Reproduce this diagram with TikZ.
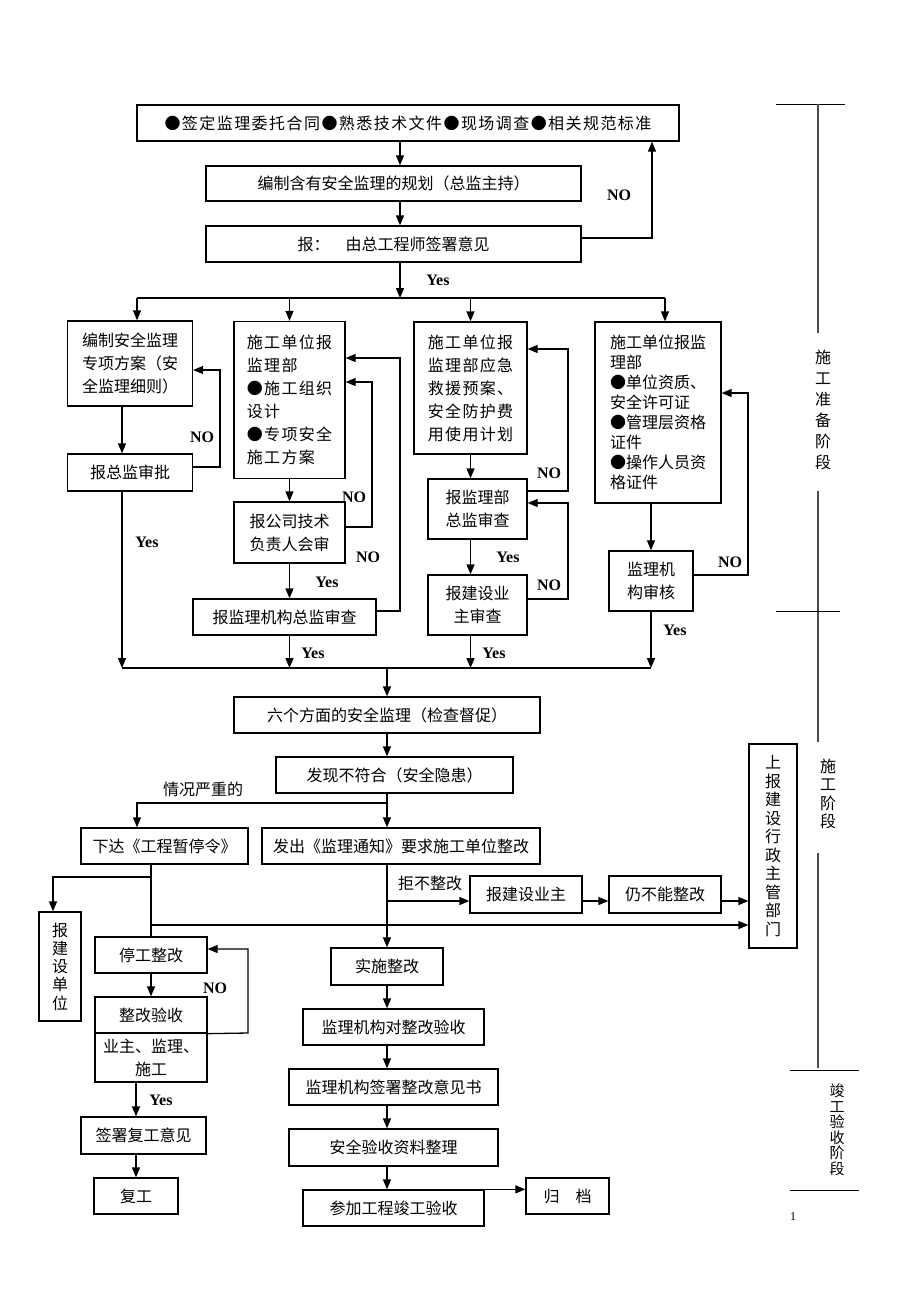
\documentclass[tikz,border=0pt]{standalone}
\usepackage{fontspec}
\setmainfont{Liberation Serif}
\newfontfamily\cjk{Noto Sans CJK SC}
\usetikzlibrary{arrows.meta}

\tikzset{
  box/.style={draw, line width=1.3pt, inner sep=0pt, align=center,
              font=\cjk\fontsize{16}{23}\selectfont},
  lbox/.style={box, align=left},
  spaced/.style={font=\cjk\addfontfeature{LetterSpace=8}\fontsize{16}{23}\selectfont},
  lab/.style={font=\bfseries\fontsize{16}{16}\selectfont, inner sep=0pt},
  note/.style={font=\cjk\fontsize{16}{16}\selectfont, inner sep=0pt},
  phase/.style={align=center, inner sep=0pt},
  conn/.style={line width=1.3pt},
  arr/.style={conn, -{Triangle[length=10pt,width=8pt]}},
  phaseline/.style={line width=1.8pt, black!70}
}

\begin{document}
\begin{tikzpicture}[x=1pt,y=-1pt]
             \useasboundingbox (0,0) rectangle (920,1302);

             \node[box, minimum width=542pt, minimum height=36pt, font=\cjk\addfontfeature{LetterSpace=9}\fontsize{16}{23}\selectfont] (b1) at (408,123) {●签定监理委托合同●熟悉技术文件●现场调查●相关规范标准};
             \node[box, minimum width=375pt, minimum height=35pt] (b2) at (393.5,183.5) {编制含有安全监理的规划（总监主持）};
             \node[box, minimum width=375pt, minimum height=36pt] (b3) at (393.5,244) {报：\hspace{1em}由总工程师签署意见};

             \node[lbox, minimum width=125pt, minimum height=85pt] (c1a) at (130,363.5) {编制安全监理\\专项方案（安\\全监理细则）};
             \node[box, minimum width=125pt, minimum height=37pt] (c1b) at (130,472.5) {报总监审批};

             \node[lbox, spaced, minimum width=111pt, minimum height=157pt] (c2a) at (289.5,400) {施工单位报\\监理部\\●施工组织\\设计\\●专项安全\\施工方案};
             \node[box, minimum width=111pt, minimum height=61pt] (c2b) at (289.5,532.5) {报公司技术\\负责人会审};
             \node[box, minimum width=183pt, minimum height=36pt] (c2c) at (284.5,617) {报监理机构总监审查};

             \node[lbox, spaced, minimum width=113pt, minimum height=132pt] (c3a) at (470.5,388) {施工单位报\\监理部应急\\救援预案、\\安全防护费\\用使用计划};
             \node[box, minimum width=99pt, minimum height=60pt] (c3b) at (477.5,509) {报监理部\\总监审查};
             \node[box, minimum width=99pt, minimum height=60pt] (c3c) at (477.5,605) {报建设业\\主审查};

             \node[lbox, minimum width=126pt, minimum height=181pt, font=\cjk\fontsize{16}{20}\selectfont] (c4a) at (658,412.5) {施工单位报监\\理部\\●单位资质、\\安全许可证\\●管理层资格\\证件\\●操作人员资\\格证件};
             \node[box, minimum width=84pt, minimum height=60pt] (c4b) at (651,581) {监理机\\构审核};

             \node[box, minimum width=306pt, minimum height=36pt] (d1) at (387,715) {六个方面的安全监理（检查督促）};
             \node[box, minimum width=237pt, minimum height=36pt] (d2) at (394.5,775) {发现不符合（安全隐患）};
             \node[box, minimum width=167pt, minimum height=36pt] (e1) at (164.5,846) {下达《工程暂停令》};
             \node[box, minimum width=278pt, minimum height=36pt] (e2) at (401,846) {发出《监理通知》要求施工单位整改};

             \node[box, minimum width=42pt, minimum height=109pt, font=\cjk\fontsize{16}{18.3}\selectfont] (f0) at (60,966.5) {报\\建\\设\\单\\位};
             \node[box, minimum width=112pt, minimum height=36pt] (f1) at (151,955) {停工整改};
             \node[box, minimum width=112pt, minimum height=36pt] (f2) at (151,1015) {整改验收};
             \node[box, minimum width=112pt, minimum height=49pt] (f2b) at (151,1057.5) {业主、监理、\\施工};
             \node[box, minimum width=125pt, minimum height=37pt] (f3) at (143.5,1135.5) {签署复工意见};
             \node[box, minimum width=84pt, minimum height=36pt] (f4) at (136,1196) {复工};

             \node[box, minimum width=112pt, minimum height=37pt] (i1) at (526,894.5) {报建设业主};
             \node[box, minimum width=112pt, minimum height=37pt] (i2) at (665,894.5) {仍不能整改};
             \node[box, minimum width=48pt, minimum height=204pt, font=\cjk\fontsize{16}{18.5}\selectfont] (g) at (773,846) {上\\报\\建\\设\\行\\政\\主\\管\\部\\门};

             \node[box, minimum width=112pt, minimum height=37pt] (h1) at (387,966.5) {实施整改};
             \node[box, minimum width=181pt, minimum height=36pt] (h2) at (393.5,1027) {监理机构对整改验收};
             \node[box, minimum width=209pt, minimum height=36pt] (h3) at (393.5,1087) {监理机构签署整改意见书};
             \node[box, minimum width=209pt, minimum height=37pt] (h4) at (393.5,1147.5) {安全验收资料整理};
             \node[box, minimum width=181pt, minimum height=36pt] (h5) at (393.5,1208) {参加工程竣工验收};
             \node[box, minimum width=83pt, minimum height=36pt] (h6) at (567.5,1196) {归\hspace{1em}档};

             % junction points
             \coordinate (spine) at (400,298);
             \coordinate (splitL) at (137,298);
             \coordinate (splitR) at (665,298);
             \coordinate (mergeL) at (122,668);
             \coordinate (mergeR) at (651,668);
             \coordinate (mid) at (387,668);
             \coordinate (sev) at (387,803);
             \coordinate (sevL) at (137,803);
             \coordinate (refuse) at (387,901);
             \coordinate (stop) at (151,877);
             \coordinate (stopL) at (53,877);
             \coordinate (rep) at (151,925);

             % NO loops
             \coordinate (loopTa) at (652,238);
             \coordinate (loop1a) at (220,467);
             \coordinate (loop1b) at (220,370);
             \coordinate (loop2a) at (372,527);
             \coordinate (loop2b) at (372,382);
             \coordinate (loop3a) at (400,611);
             \coordinate (loop3b) at (400,358);
             \coordinate (loop4a) at (568,491);
             \coordinate (loop4b) at (568,349);
             \coordinate (loop5a) at (568,599);
             \coordinate (loop5b) at (568,503);
             \coordinate (loop6a) at (748,575);
             \coordinate (loop6b) at (748,393);
             \coordinate (loopFa) at (248,1033);
             \coordinate (loopFb) at (248,949);

             \draw[arr] (b1.south -| spine) -- (b2.north -| spine);
             \draw[arr] (b2.south -| spine) -- (b3.north -| spine);
             \draw[arr] (b3.south -| spine) -- (spine);
             \draw[arr] (b3.east |- loopTa) -- (loopTa) -- (b1.south -| loopTa);
             \draw[conn] (splitL) -- (splitR);
             \draw[arr] (splitL) -- (splitL |- c1a.north);
             \draw[arr] (splitL -| c2a.north) -- (c2a.north);
             \draw[arr] (splitL -| c3a.north) -- (c3a.north);
             \draw[arr] (splitR) -- (splitR |- c4a.north);

             \draw[arr] (c1a.south -| mergeL) -- (c1b.north -| mergeL);
             \draw[arr] (c1b.south -| mergeL) -- (mergeL);
             \draw[arr] (c1b.east |- loop1a) -- (loop1a) -- (loop1b) -- (c1a.east |- loop1b);

             \draw[arr] (c2a.south) -- (c2b.north);
             \draw[arr] (c2b.south) -- (c2b.south |- c2c.north);
             \draw[arr] (c2c.south -| c2b) -- (mergeL -| c2b);
             \draw[arr] (c2b.east |- loop2a) -- (loop2a) -- (loop2b) -- (c2a.east |- loop2b);
             \draw[arr] (c2c.east |- loop3a) -- (loop3a) -- (loop3b) -- (c2a.east |- loop3b);

             \draw[arr] (c3a.south) -- (c3a.south |- c3b.north);
             \draw[arr] (c3b.south -| c3a) -- (c3c.north -| c3a);
             \draw[arr] (c3c.south -| c3a) -- (mergeL -| c3a);
             \draw[arr] (c3b.east |- loop4a) -- (loop4a) -- (loop4b) -- (c3a.east |- loop4b);
             \draw[arr] (c3c.east |- loop5a) -- (loop5a) -- (loop5b) -- (c3b.east |- loop5b);

             \draw[arr] (c4b.north |- c4a.south) -- (c4b.north);
             \draw[arr] (c4b.south) -- (mergeR);
             \draw[arr] (c4b.east |- loop6a) -- (loop6a) -- (loop6b) -- (c4a.east |- loop6b);

             \draw[conn] (mergeL) -- (mergeR);
             \draw[arr] (mid) -- (d1.north -| mid);
             \draw[arr] (d1.south -| mid) -- (d2.north -| mid);
             \draw[conn] (d2.south -| mid) -- (sev);
             \draw[arr] (sev) -- (sevL) -- (sevL |- e1.north);
             \draw[arr] (sev) -- (e2.north -| mid);
             \draw[arr] (e2.south -| mid) -- (h1.north -| mid);
             \draw[arr] (refuse) -- (i1.west |- refuse);
             \draw[arr] (i1.east |- refuse) -- (i2.west |- refuse);
             \draw[arr] (i2.east |- refuse) -- (g.west |- refuse);

             \draw[conn] (e1.south -| stop) -- (f1.north);
             \draw[arr] (stop) -- (stopL) -- (stopL |- f0.north);
             \draw[arr] (rep) -- (g.west |- rep);
             \draw[arr] (f1.south) -- (f2.north);
             \draw[arr] (f2.south east) -- (loopFa) -- (loopFb) -- (f1.east |- loopFb);
             \draw[arr] (f2b.south -| f4) -- (f3.north -| f4);
             \draw[arr] (f3.south -| f4) -- (f4.north);

             \draw[arr] (h1.south -| mid) -- (h2.north -| mid);
             \draw[arr] (h2.south -| mid) -- (h3.north -| mid);
             \draw[arr] (h3.south -| mid) -- (h4.north -| mid);
             \draw[arr] (h4.south -| mid) -- (h5.north -| mid);
             \draw[arr] (h5.north east) -- (h6.west |- h5.north);

             \node[lab] (noT) at (619,195) {NO};
             \node[lab] (yesT) at (438,280) {Yes};
             \node[lab] (no1) at (202,437) {NO};
             \node[lab] (yes1) at (147,542) {Yes};
             \node[lab] (no2) at (354,497) {NO};
             \node[lab] (no3) at (368,557) {NO};
             \node[lab] (yes2) at (327,582) {Yes};
             \node[lab] (yes3) at (313,653) {Yes};
             \node[lab] (no4) at (549,473) {NO};
             \node[lab] (yes4) at (508,557) {Yes};
             \node[lab] (no5) at (549,585) {NO};
             \node[lab] (yes5) at (494,653) {Yes};
             \node[lab] (no6) at (730,562) {NO};
             \node[lab] (yes6) at (675,630) {Yes};
             \node[lab] (noF) at (215,988) {NO};
             \node[lab] (yesF) at (161,1100) {Yes};
             \node[note] (serious) at (203,789) {情况严重的};
             \node[note] (refuselab) at (430,883) {拒不整改};

             % stages on the right
             \draw[thin] (776,104) -- (845,104);
             \draw[phaseline] (818,104) -- (818,333);
             \node[phase, font=\cjk\fontsize{16}{21}\selectfont] (prep) at (823,410) {施\\工\\准\\备\\阶\\段};
             \draw[phaseline] (818,491) -- (818,742);
             \draw[thin] (776,611) -- (840,611);
             \node[phase, font=\cjk\fontsize{16}{18.5}\selectfont] (build) at (828,794) {施\\工\\阶\\段};
             \draw[phaseline] (818,853) -- (818,1068);
             \draw[thin] (790,1070) -- (859,1070);
             \node[phase, font=\cjk\fontsize{15}{15.5}\selectfont] (accept) at (837,1130) {竣\\工\\验\\收\\阶\\段};
             \draw[thin] (790,1190) -- (859,1190);
             \node[font=\fontsize{12}{12}\selectfont, inner sep=0pt] (page) at (793,1217) {1};
\end{tikzpicture}
\end{document}
